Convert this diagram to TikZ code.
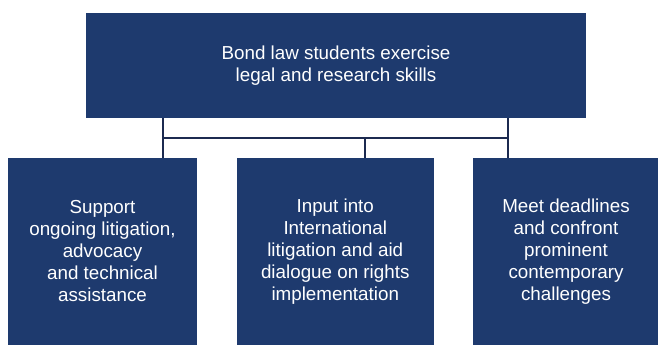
\documentclass[tikz,border=0pt]{standalone}
\usepackage{fontspec}
\setmainfont{Liberation Sans}
\definecolor{navy}{RGB}{30,58,110}
\definecolor{linenavy}{RGB}{28,42,80}
\begin{document}
\begin{tikzpicture}[x=1pt,y=1pt,
  box/.style={fill=navy,draw=none,inner sep=0pt,align=center,text=white,
    font=\fontsize{18.8}{21.5}\selectfont},
  lowbox/.style={box,minimum height=187pt,font=\fontsize{18.8}{22}\selectfont},
  conn/.style={draw=linenavy,line width=1.3pt}]
\useasboundingbox (0,0) rectangle (658,345);
\node[box,minimum width=500pt,minimum height=105pt] (top) at (336,279.5)
  {Bond law students exercise\\legal and research skills};
\node[lowbox,minimum width=189pt] (left) at (102.5,93.5)
  {Support\\ongoing litigation,\\advocacy\\and technical\\assistance};
\node[lowbox,minimum width=196.5pt] (mid) at (335.25,93.5)
  {Input into\\International\\litigation and aid\\dialogue on rights\\implementation};
\node[lowbox,minimum width=186pt] (right) at (566,93.5)
  {Meet deadlines\\and confront\\prominent\\contemporary\\challenges};
\coordinate (j1) at (163,207);
\coordinate (j2) at (365,207);
\coordinate (j3) at (508,207);
\draw[conn] (top.south -| j1) -- (left.north -| j1);
\draw[conn] (j1) -- (j3);
\draw[conn] (j2) -- (mid.north -| j2);
\draw[conn] (top.south -| j3) -- (right.north -| j3);
\end{tikzpicture}
\end{document}
